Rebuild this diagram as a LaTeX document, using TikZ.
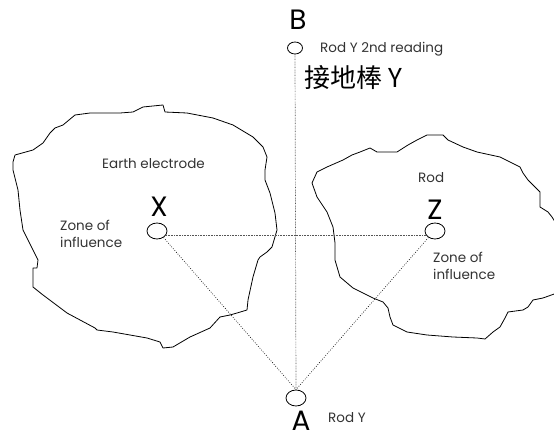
\documentclass[tikz,border=0pt]{standalone}
\usepackage{fontspec}
\setmainfont{Poppins}
\newfontfamily\cjk{Noto Sans CJK TC}
\usetikzlibrary{shapes.geometric}
\definecolor{txtgrey}{HTML}{333333}
\definecolor{dotgrey}{HTML}{555555}
\tikzset{
  blob/.style={draw=black, line width=0.8pt, line join=round},
  probe/.style={ellipse, draw=black, line width=0.8pt, inner sep=0pt,
    minimum width=20pt, minimum height=16pt},
  letter/.style={font=\fontsize{28}{28}\selectfont, text=black, inner sep=0pt, anchor=base},
  caption/.style={font=\fontsize{13.5}{17}\selectfont, text=txtgrey, inner sep=0pt, align=left},
  dotline/.style={draw=dotgrey, line width=0.7pt, dash pattern=on 0.7pt off 0.9pt},
  sparse/.style={draw=black, line width=0.6pt, dash pattern=on 0.8pt off 1.6pt}
}
\begin{document}
\begin{tikzpicture}[x=1pt, y=-1pt]
\path[use as bounding box] (0,0) rectangle (554,438);
\clip (0,0) rectangle (554,438);

% earth electrode area
\draw[blob] (15,155) -- (33,150) -- (43,143) -- (50,133) -- (55,128) -- (63,125)
  -- (75,115) -- (90,113) -- (110,113) -- (120,113) -- (133,112) -- (143,107)
  -- (163,105) -- (165,112) -- (187,113) -- (213,118) -- (233,125) -- (253,137)
  -- (263,147) -- (267,157) -- (265,170) -- (265,180) -- (270,193) -- (275,213)
  -- (277,230) -- (272,247) -- (267,252) -- (260,257) -- (258,260) -- (253,277)
  -- (248,300) -- (247,310) -- (237,313) -- (230,315) -- (220,317) -- (210,328)
  -- (190,337) -- (173,347) -- (163,348) -- (160,342) -- (147,338) -- (113,332)
  -- (97,330) -- (95,328) -- (67,313) -- (43,295) -- (33,287) -- (33,268)
  -- (37,268) -- (38,260) -- (33,250) -- (23,230) -- (20,210) -- (18,190)
  -- (13,170) -- (13,162) -- cycle;

% rod area
\draw[blob] (312,183) -- (317,172) -- (327,167) -- (343,160) -- (352,155)
  -- (360,152) -- (370,148) -- (377,152) -- (397,152) -- (408,145) -- (417,140)
  -- (427,135) -- (443,135) -- (448,140) -- (463,147) -- (477,152) -- (500,157)
  -- (520,167) -- (523,173) -- (528,180) -- (533,185) -- (540,192) -- (540,207)
  -- (548,212) -- (552,217) -- (557,225) -- (560,260) -- (557,293) -- (543,298)
  -- (533,300) -- (528,307) -- (523,310) -- (508,312) -- (505,318) -- (500,327)
  -- (493,332) -- (485,339) -- (477,338) -- (453,337) -- (427,335) -- (407,332)
  -- (393,325) -- (390,317) -- (388,308) -- (383,302) -- (373,298) -- (353,288)
  -- (340,277) -- (335,260) -- (335,243) -- (333,227) -- (327,212) -- (317,197)
  -- cycle;

% probes
\node[probe, minimum width=15pt, minimum height=12pt] (Bc) at (295,48) {};
\node[probe] (Ac) at (296,398) {};
\node[probe] (Xc) at (157,231) {};
\node[probe] (Zc) at (435,231) {};

% measuring lines
\draw[dotline] (Bc.south) -- (Ac.north);
\draw[dotline] (Xc.-25) -- (Zc.205);
\draw[sparse] (Xc.-45) -- (Ac.north);
\draw[sparse] (Zc.225) -- (Ac.north);

% letters
\node[letter] (lB) at (298,30) {B};
\node[letter] (lX) at (159,217) {X};
\node[letter] (lZ) at (435,220) {Z};
\node[letter] (lA) at (301,430) {A};

% captions
\node[caption, anchor=west] (tB) at (320,49) {Rod Y 2nd reading};
\node[anchor=west, inner sep=0pt, font=\cjk\fontsize{26}{26}\selectfont] (tcjk) at (304,78) {接地棒 Y};
\node[caption, anchor=west] (tE) at (102,164) {Earth electrode};
\node[caption, anchor=north west] (tZx) at (60,220) {Zone of\\influence};
\node[caption, anchor=west] (tR) at (418,178) {Rod};
\node[caption, anchor=north west] (tZz) at (433,252) {Zone of\\influence};
\node[caption, anchor=west] (tA) at (328,418) {Rod Y};
\end{tikzpicture}
\end{document}
